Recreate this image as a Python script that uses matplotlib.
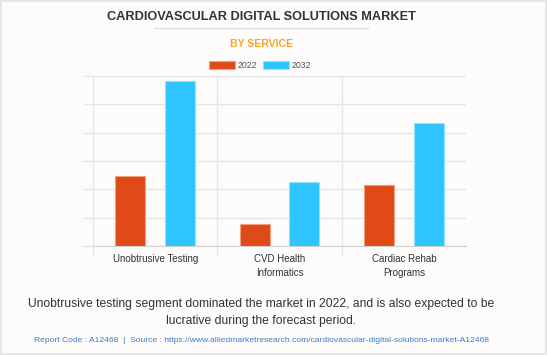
import numpy as np
import matplotlib.pyplot as plt
from matplotlib.patches import Rectangle

categories = ["Unobtrusive Testing", "CVD Health\nInformatics", "Cardiac Rehab\nPrograms"]
years = ["2022", "2032"]
values_2022 = [2.47, 0.78, 2.15]
values_2032 = [5.82, 2.26, 4.34]
colors = ["#E04A16", "#2EC5FF"]
edge_colors = ["#F0A080", "#90E0FF"]

plt.rcParams['font.family'] = ['Liberation Sans', 'DejaVu Sans']

fig = plt.figure(figsize=(5.47, 3.55), dpi=100)
fig.patch.set_facecolor("#FDFCFB")
# thin border around the card
fig.add_artist(Rectangle((0.001, 0.002), 0.997, 0.996, transform=fig.transFigure,
                         fill=False, edgecolor="#E2E2E2", linewidth=1.2))

ax = fig.add_axes([0.170, 0.307, 0.682, 0.479])
ax.set_facecolor("#FDFCFB")

x = np.arange(len(categories)) + 0.5
w = 0.24
ax.bar(x - 0.2, values_2022, w, color=colors[0], edgecolor=edge_colors[0], linewidth=0.8,
       label=years[0], zorder=3)
ax.bar(x + 0.2, values_2032, w, color=colors[1], edgecolor=edge_colors[1], linewidth=0.8,
       label=years[1], zorder=3)

ax.set_xlim(0, 3)
ax.set_ylim(0, 6)
ax.set_yticks(np.arange(0, 7))
ax.set_yticklabels([])
ax.set_xticks(x)
ax.set_xticklabels(categories, fontsize=7, color="#333333", linespacing=1.45)
ax.set_xticks([0, 1, 2], minor=True)
ax.tick_params(axis="x", which="major", length=0, pad=6)
ax.tick_params(axis="x", which="minor", length=7, color="#E6E6E6", width=1)
ax.tick_params(axis="y", length=7, color="#E6E6E6", width=1)
ax.grid(axis="y", color="#E6E6E6", linewidth=1, zorder=0)
ax.grid(axis="x", which="minor", color="#E6E6E6", linewidth=1, zorder=0)
for s in ["top", "right", "left"]:
    ax.spines[s].set_visible(False)
ax.spines["bottom"].set_color("#D0D0D0")

ax.legend(loc="lower center", bbox_to_anchor=(0.448, 0.99), ncol=2, frameon=False,
          fontsize=6.3, handlelength=3.0, handleheight=1.0, columnspacing=0.6,
          handletextpad=0.3, labelcolor="#555555")

fig.text(0.478, 0.952, "CARDIOVASCULAR DIGITAL SOLUTIONS MARKET", ha="center", va="center",
         fontsize=9.2, fontweight="bold", color="#333333")
fig.add_artist(plt.Line2D([154 / 547, 368 / 547], [1 - 28 / 355] * 2, transform=fig.transFigure,
                          color="#DDDDDD", linewidth=0.8))
fig.text(0.478, 0.876, "BY SERVICE", ha="center", va="center", fontsize=7.6,
         fontweight="bold", color="#F5A623")

fig.text(0.478, 1 - 304 / 355, "Unobtrusive testing segment dominated the market in 2022, and is also expected to be",
         ha="center", va="center", fontsize=8.75, color="#333333")
fig.text(0.478, 1 - 321 / 355, "lucrative during the forecast period.",
         ha="center", va="center", fontsize=8.75, color="#333333")
fig.text(0.478, 1 - 341 / 355,
         "Report Code : A12468  |  Source : https://www.alliedmarketresearch.com/cardiovascular-digital-solutions-market-A12468",
         ha="center", va="center", fontsize=6.1, color="#3A7BC8")

fig.savefig("out.png", dpi=100, facecolor=fig.get_facecolor())
